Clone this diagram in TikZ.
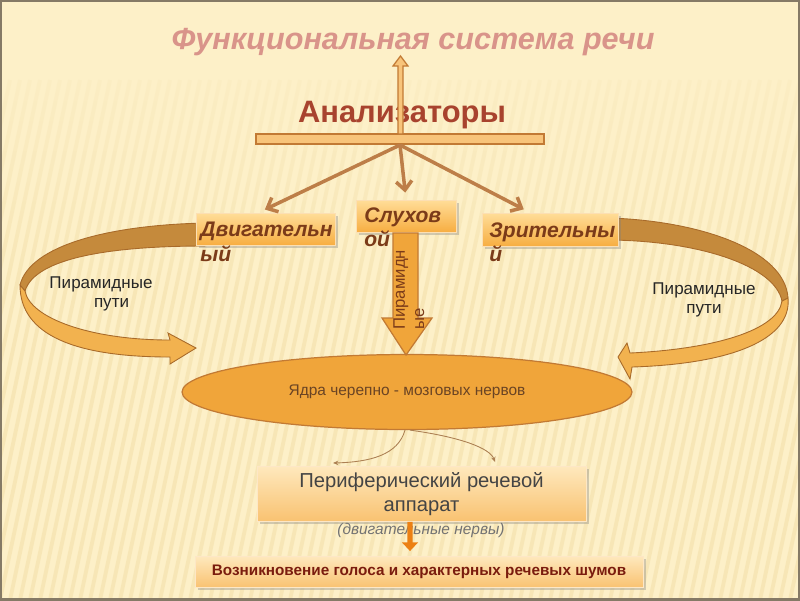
\documentclass[tikz,border=0pt]{standalone}
\usepackage{fontspec}
\setmainfont{Liberation Sans}
\usetikzlibrary{arrows.meta, positioning, shapes.geometric, shadows, fadings}

\definecolor{cream}{HTML}{FDF0C8}
\definecolor{stripecol}{HTML}{F0DCA2}
\definecolor{framecol}{HTML}{857A66}
\definecolor{titlecol}{HTML}{D9948A}
\definecolor{analcol}{HTML}{A8432E}
\definecolor{barfill}{HTML}{F8C47A}
\definecolor{barline}{HTML}{C27A34}
\definecolor{linkcol}{HTML}{BD7E48}
\definecolor{boxtop}{HTML}{FFDD98}
\definecolor{boxbot}{HTML}{F7AE42}
\definecolor{boxtxt}{HTML}{7B3B19}
\definecolor{ribdark}{HTML}{C58A3C}
\definecolor{riblight}{HTML}{F2B24F}
\definecolor{ribline}{HTML}{A86A2A}
\definecolor{ovalfill}{HTML}{F0A53A}
\definecolor{ovaltxt}{HTML}{6A4424}
\definecolor{pbtop}{HTML}{FEE8BC}
\definecolor{pbbot}{HTML}{F9C271}
\definecolor{greytxt}{HTML}{444444}
\definecolor{bottxt}{HTML}{7A1C0E}

\tikzset{
  anbox/.style={draw=white!60!boxbot, line width=0.5pt, top color=boxtop, bottom color=boxbot,
    drop shadow={opacity=0.35, shadow xshift=1.5pt, shadow yshift=-1.5pt}, inner sep=0pt},
  antxt/.style={font=\bfseries\itshape\fontsize{12}{14}\selectfont, text=boxtxt, align=left, inner sep=0pt},
  link/.style={linkcol, line width=2pt, -{Straight Barb[length=5pt,width=9pt]}, shorten >=4pt},
  ribbon/.style={draw=ribline, line width=0.5pt},
  thinlink/.style={draw=brown!70!gray, line width=0.5pt, -{Stealth[length=3pt,width=2.5pt]}},
  pirlabel/.style={font=\fontsize{9.7}{11}\selectfont, align=center, text=black!85}
}

\begin{document}
\begin{tikzpicture}[x=0.02cm, y=-0.02cm, >=Stealth]
\useasboundingbox (0,0) rectangle (800,600);

% Background
\fill[cream] (0,0) rectangle (800,600);
\foreach \i in {-20,...,90}
  \draw[stripecol, line width=2.2pt, opacity=0.45] (\i*10,600) -- ++(110,-520);
\fill[cream, path fading=south] (0,0) rectangle (800,300);
\draw[framecol, line width=2pt] (0,0) rectangle (800,600);

% Title
\node[font=\bfseries\itshape\fontsize{17.4}{19}\selectfont, text=titlecol] (title) at (413,42) {Функциональная система речи};
\node[font=\bfseries\fontsize{17.6}{20}\selectfont, text=analcol] (anal) at (402,115) {Анализаторы};

% Bar and hub arrow
\draw[barline, fill=barfill, line width=0.7pt] (256,134) rectangle (544,144);
\draw[barline, fill=barfill, line width=0.7pt]
  (398,134) -- (398,66) -- (393,66) -- (400.5,56) -- (408,66) -- (403,66) -- (403,134) -- cycle;
\coordinate (hub) at (400,145);

% Pyramid ribbons (left)
\draw[ribbon, fill=ribdark] (205,223) .. controls (110,225) and (30,245) .. (20,285)
  -- (25,291) .. controls (35,258) and (110,246) .. (205,246) -- cycle;
\draw[ribbon, fill=riblight] (20,285) .. controls (20,335) and (75,357) .. (170,357)
  -- (170,364) -- (196,348) -- (168,333) -- (170,340)
  .. controls (90,340) and (30,318) .. (25,291) -- cycle;

% Pyramid ribbons (right)
\draw[ribbon, fill=ribdark] (610,218) .. controls (700,221) and (785,250) .. (788,298)
  -- (782,301) .. controls (775,266) and (700,241) .. (610,240) -- cycle;
\draw[ribbon, fill=riblight] (788,298) .. controls (792,340) and (730,364) .. (632,367)
  -- (630,379) -- (618,357) -- (627,343) -- (630,353)
  .. controls (715,349) and (778,330) .. (782,301) -- cycle;

\node[pirlabel] (pl) at (101,294) {Пирамидные\\\hspace*{12pt}пути};
\node[pirlabel] (pr) at (704,300) {Пирамидные\\пути};

% Analyser boxes
\node[anbox, minimum width=2.78cm, minimum height=0.64cm] (dvig) at (265.5,229) {};
\node[anbox, minimum width=2cm, minimum height=0.64cm] (sluh) at (406,216) {};
\node[anbox, minimum width=2.72cm, minimum height=0.66cm] (zrit) at (550,229.5) {};
\node[antxt, anchor=north west] (dvigtxt) at (200,222) {Двигательн\\ый};
\node[antxt, anchor=north west] (sluhtxt) at (364,207) {Слухов\\ой};
\node[antxt, anchor=north west] (zrittxt) at (489,222) {Зрительны\\й};

\draw[link] (hub) -- ([xshift=-0.14cm]dvig.north);
\draw[link] (hub) -- (sluh.north);
\draw[link] (hub) -- ([xshift=-0.4cm]zrit.north);

% Nuclei
\node[ellipse, draw=barline, line width=0.7pt, fill=ovalfill, minimum width=9cm, minimum height=1.5cm,
  font=\fontsize{8.8}{10}\selectfont, text=ovaltxt] (oval) at (407,392) {Ядра черепно - мозговых нервов};

% Block arrow down
\draw[barline, fill=ovalfill, line width=0.7pt]
  (393,233) -- (418,233) -- (418,318) -- (432,318) -- (406,355) -- (382,318) -- (393,318) -- cycle;
\node[rotate=90, anchor=north west, align=left, inner sep=0pt, font=\fontsize{9.5}{11}\selectfont,
  text=boxtxt] (pirtxt) at (393,330) {Пирамидн\\ые};

% Periphery
\node[draw=white!60!pbbot, line width=0.5pt, top color=pbtop, bottom color=pbbot,
  drop shadow={opacity=0.35, shadow xshift=1.5pt, shadow yshift=-1.5pt},
  minimum width=6.58cm, minimum height=1.04cm, align=center,
  font=\fontsize{11.5}{13.5}\selectfont, text=greytxt] (periph) at (421.5,494)
  {Периферический речевой\\аппарат};
\node[font=\itshape\fontsize{8.8}{10}\selectfont, text=black!55] (nerves) at (421,530) {(двигательные нервы)};

\coordinate (lend) at (333,463);
\coordinate (rend) at (495,462);
\draw[thinlink] ([xshift=-0.04cm]oval.south) .. controls (398,455) and (370,462) .. (lend);
\draw[thinlink] ([xshift=0.06cm]oval.south) .. controls (460,437) and (490,448) .. (rend);

% Result
\node[draw=white!60!pbbot, line width=0.5pt, top color=pbtop, bottom color=pbbot,
  drop shadow={opacity=0.35, shadow xshift=1.5pt, shadow yshift=-1.5pt},
  minimum width=8.96cm, minimum height=0.62cm,
  font=\bfseries\fontsize{8.7}{10}\selectfont, text=bottxt] (result) at (419,572)
  {Возникновение голоса и характерных речевых шумов};

\draw[draw=orange!70!brown, line width=3pt, -{Triangle[length=5pt,width=9pt]}]
  ([xshift=-0.23cm]periph.south) -- ([xshift=-0.18cm,yshift=0.1cm]result.north);

\end{tikzpicture}
\end{document}
